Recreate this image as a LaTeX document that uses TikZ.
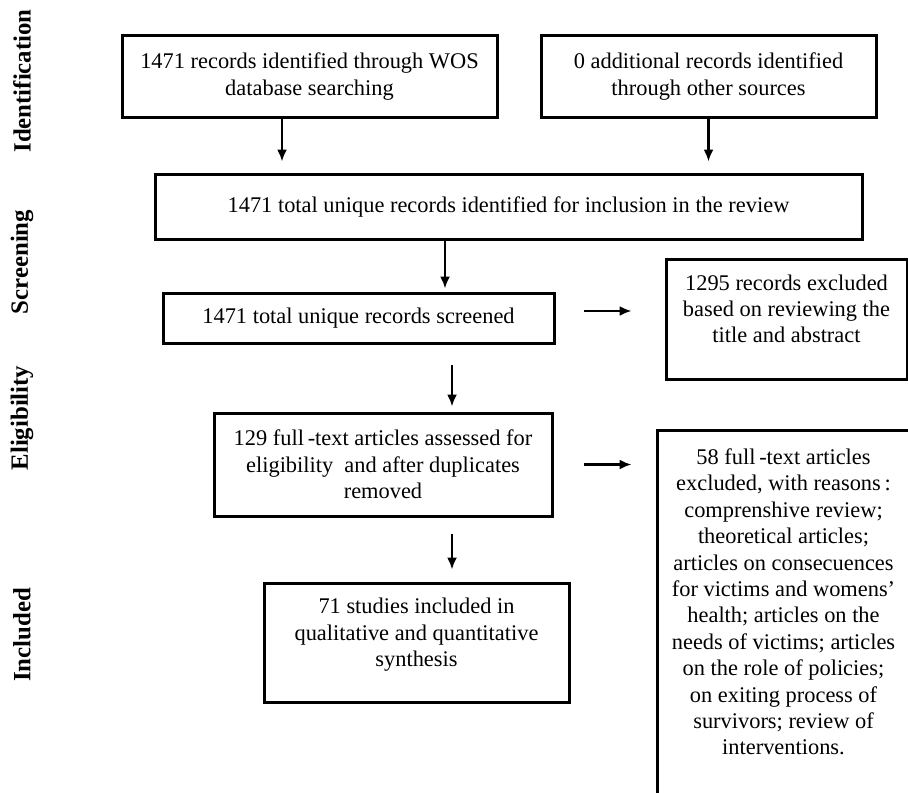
\documentclass[tikz,border=0pt]{standalone}
\usepackage{fontspec}
\setmainfont{Liberation Serif}
\usetikzlibrary{arrows.meta,positioning,calc}

\begin{document}
\begin{tikzpicture}[>={Latex[length=6pt,width=5pt]}, x=0.5pt, y=-0.5pt,
  box/.style={draw, line width=1.5pt, align=center, inner sep=0pt,
    font=\fontsize{11.2}{13.2}\selectfont},
  flow/.style={->, line width=1.1pt},
  phase/.style={rotate=90, font=\fontsize{12.4}{14}\selectfont\bfseries}]
  \useasboundingbox (0,0) rectangle (908,792);
  \clip (0,0) rectangle (908,792);
  % phases
  \node[phase] (ident) at (22,81) {Identification};
  \node[phase] (scr) at (22,262) {Screening};
  \node[phase] (elig) at (22,418) {Eligibility};
  \node[phase] (inc) at (22,635) {Included};
  % boxes
  \node[box, minimum width=187.5pt, minimum height=40.5pt] (wos) at (309.5,76.5)
    {1471 records identified through WOS\\ database searching};
  \node[box, minimum width=167.5pt, minimum height=40.5pt] (other) at (708.5,76.5)
    {0 additional records identified\\ through other sources};
  \node[box, minimum width=353.5pt, minimum height=32.5pt] (unique) at (508.5,206.5)
    {1471 total unique records identified for inclusion in the review};
  \node[box, minimum width=195.5pt, minimum height=25pt] (screened) at (358.5,318)
    {1471 total unique records screened};
  \node[box, minimum width=120.5pt, minimum height=60pt] (excl) at (786.5,319)
    {1295 records excluded\\ based on reviewing the\\ title and abstract\\[-3pt]\mbox{}};
  \node[box, minimum width=169pt, minimum height=51.5pt] (fulltext) at (383,464.5)
    {129 full\,-text articles assessed for\\ eligibility\ \ and after duplicates\\ removed};
  \node[box, minimum width=126.5pt, minimum height=185pt] (reasons) at (783.5,615)
    {58 full\,-text articles\\ excluded, with reasons\,:\\ comprenshive review;\\
     theoretical articles;\\ articles on consecuences\\ for victims and womens'\\
     health; articles on the\\ needs of victims; articles\\ on the role of policies;\\
     on exiting process of\\ survivors; review of\\ interventions.\\ \mbox{}};
  \node[box, minimum width=152.5pt, minimum height=59.5pt] (incl) at (416.5,642.5)
    {71 studies included in\\ qualitative and quantitative\\ synthesis\\[-3pt]\mbox{}};
  % arrows
  \draw[flow, shorten >=5.5pt] ([xshift=-13.75pt]wos.south) -- ([xshift=-13.75pt]wos.south |- unique.north);
  \draw[flow, shorten >=5.5pt] (other.south) -- (other.south |- unique.north);
  \draw[flow, shorten >=1.5pt] ([xshift=43.25pt]screened.north |- unique.south) -- ([xshift=43.25pt]screened.north);
  \draw[flow, shorten <=10pt, shorten >=2.5pt] ([xshift=34.5pt]fulltext.north |- screened.south) -- ([xshift=34.5pt]fulltext.north);
  \draw[flow, shorten <=8pt, shorten >=6pt] ([xshift=34.5pt]fulltext.south) -- ([xshift=34.5pt]fulltext.south |- incl.north);
  \draw[flow, shorten <=14pt, shorten >=16.5pt] ([yshift=3.5pt]screened.east) -- ([yshift=3.5pt]screened.east -| excl.west);
  \draw[flow, shorten <=15pt, shorten >=12pt] (fulltext.east) -- (fulltext.east -| reasons.west);
\end{tikzpicture}
\end{document}
